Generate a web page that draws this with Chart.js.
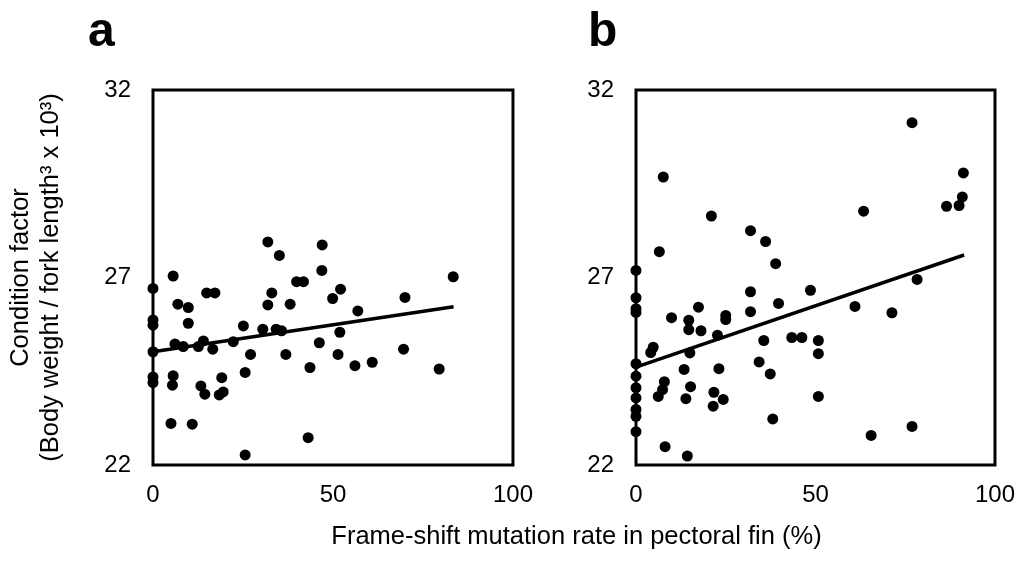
<!DOCTYPE html>
<html><head><meta charset="utf-8">
<script src="https://cdn.jsdelivr.net/npm/chart.js@4.4.0/dist/chart.umd.min.js"></script>
<style>
html,body{margin:0;padding:0;background:#fff;width:1021px;height:565px;overflow:hidden;font-family:"Liberation Sans",Arial,sans-serif;position:relative;}
canvas{position:absolute;top:0;}
#ca{left:0;}
#cb{left:520px;}
.lbl{position:absolute;font-weight:bold;font-size:48px;line-height:48px;color:#000;}
#xt{position:absolute;left:0;width:1153px;top:523px;text-align:center;font-size:25.5px;line-height:25.5px;color:#000;white-space:nowrap;}
</style>
</head><body>
<canvas id="ca" width="549" height="565"></canvas>
<canvas id="cb" width="511" height="565"></canvas>
<div class="lbl" style="left:88px;top:6px;">a</div>
<div class="lbl" style="left:588px;top:6px;">b</div>
<div id="xt">Frame-shift mutation rate in pectoral fin (%)</div>
<script>
// ---- Panel a data ----
const aX = [31.9,35.1,47.0,46.9,5.6,39.9,41.8,0,49.9,52.1,14.9,17.2,33.0,6.9,9.8,31.9,38.1,0,0,9.8,25.1,30.5,34.2,35.7,51.9,6.1,8.4,12.6,14.0,16.6,22.3,0,27.1,36.9,46.2,51.4,43.6,0,0,5.6,5.4,19.1,25.6,13.3,14.4,18.4,19.5,5.0,10.9,43.1,25.6,83.4,70.0,56.9,69.6,56.1,60.9,79.5];
const aY = [27.95,27.59,27.87,27.19,27.04,26.89,26.89,26.71,26.44,26.69,26.59,26.59,26.59,26.29,26.2,26.27,26.29,25.87,25.73,25.78,25.71,25.62,25.62,25.58,25.54,25.23,25.16,25.16,25.31,25.09,25.29,25.02,24.95,24.95,25.26,24.95,24.6,24.35,24.2,24.38,24.13,24.33,24.47,24.11,23.89,23.87,23.95,23.11,23.09,22.73,22.27,27.02,26.47,26.11,25.09,24.65,24.74,24.56];
const aFitX = [0, 83.5];
const aFitY = [25.02, 26.22];
// ---- Panel b data ----
const bX = [7.6,21.0,31.9,36.1,38.9,6.5,0,0,0,0,31.9,48.6,39.7,17.4,9.9,14.7,25.0,25.0,31.9,14.7,18.1,22.7,35.6,43.4,46.2,50.8,50.8,4.8,4.1,15.0,0,0,0,0,0,0,0,7.9,7.4,6.2,13.4,15.2,13.9,23.1,21.7,24.3,21.5,34.3,37.4,38.1,8.1,14.3,50.8,76.9,91.2,90.9,90.0,86.5,63.4,78.3,61.0,71.3,65.5,76.9];
const bY = [29.68,28.64,28.25,27.96,27.37,27.69,27.19,26.46,26.17,26.07,26.62,26.66,26.31,26.21,25.93,25.86,25.99,25.88,26.09,25.61,25.58,25.46,25.32,25.4,25.4,25.32,24.97,25.14,25.0,24.99,24.7,24.37,24.06,23.79,23.48,23.3,22.89,24.22,24.01,23.83,24.55,24.09,23.77,24.57,23.94,23.75,23.57,24.75,24.43,23.23,22.49,22.24,23.83,31.13,29.79,29.15,28.92,28.9,28.77,26.95,26.23,26.06,22.79,23.03];
const bFitX = [0, 91.4];
const bFitY = [24.61, 27.6];
// ---- Axis ticks ----
const xTicks = [0, 50, 100];
const yTicks = [22, 27, 32];
const yTitle = ['Condition factor', '(Body weight / fork length\u00B3 x 10\u00B3)'];

const FONT = '"Liberation Sans", Arial, sans-serif';

const boxPlugin = {
  id: 'box',
  beforeDatasetsDraw(chart) {
    const {ctx, chartArea: a} = chart;
    ctx.save();
    ctx.strokeStyle = '#000';
    ctx.lineWidth = 3;
    ctx.lineJoin = 'miter';
    ctx.strokeRect(a.left, a.top, a.right - a.left, a.bottom - a.top);
    ctx.restore();
  }
};

function makeChart(id, xs, ys, fx, fy, leftW, rightPad, showTitle) {
  const pts = xs.map((x, i) => ({x: x, y: ys[i]}));
  const fit = fx.map((x, i) => ({x: x, y: fy[i]}));
  return new Chart(document.getElementById(id), {
    type: 'scatter',
    data: {
      datasets: [
        {data: pts, backgroundColor: '#000', borderColor: '#000', borderWidth: 0,
         pointRadius: 5.5, pointHoverRadius: 5.5, clip: false},
        {type: 'line', data: fit, borderColor: '#000', borderWidth: 3.5, pointRadius: 0,
         fill: false, tension: 0, clip: false}
      ]
    },
    options: {
      responsive: false, animation: false, devicePixelRatio: 1,
      layout: {padding: {top: 90, right: rightPad, left: 0, bottom: 0}},
      plugins: {legend: {display: false}, tooltip: {enabled: false}},
      events: [],
      scales: {
        x: {
          type: 'linear', min: xTicks[0], max: xTicks[xTicks.length - 1],
          afterBuildTicks: s => { s.ticks = xTicks.map(v => ({value: v})); },
          ticks: {padding: 16, color: '#000', font: {size: 24, family: FONT}, maxRotation: 0},
          grid: {display: false, drawTicks: false, tickLength: 0},
          border: {display: false},
          afterFit: s => { s.height = 100; }
        },
        y: {
          type: 'linear', min: yTicks[0], max: yTicks[yTicks.length - 1],
          afterBuildTicks: s => { s.ticks = yTicks.map(v => ({value: v})); },
          ticks: {padding: 22, color: '#000', font: {size: 24, family: FONT}},
          grid: {display: false, drawTicks: false, tickLength: 0},
          border: {display: false},
          title: {display: showTitle, text: yTitle, color: '#000',
                  font: {size: 25.5, family: FONT, lineHeight: 1.15}, padding: {top: 6.5, bottom: 0}},
          afterFit: s => { s.width = leftW; }
        }
      }
    },
    plugins: [boxPlugin]
  });
}

makeChart('ca', aX, aY, aFitX, aFitY, 153, 18, true);
makeChart('cb', bX, bY, bFitX, bFitY, 116, 15, false);
</script>
</body></html>
